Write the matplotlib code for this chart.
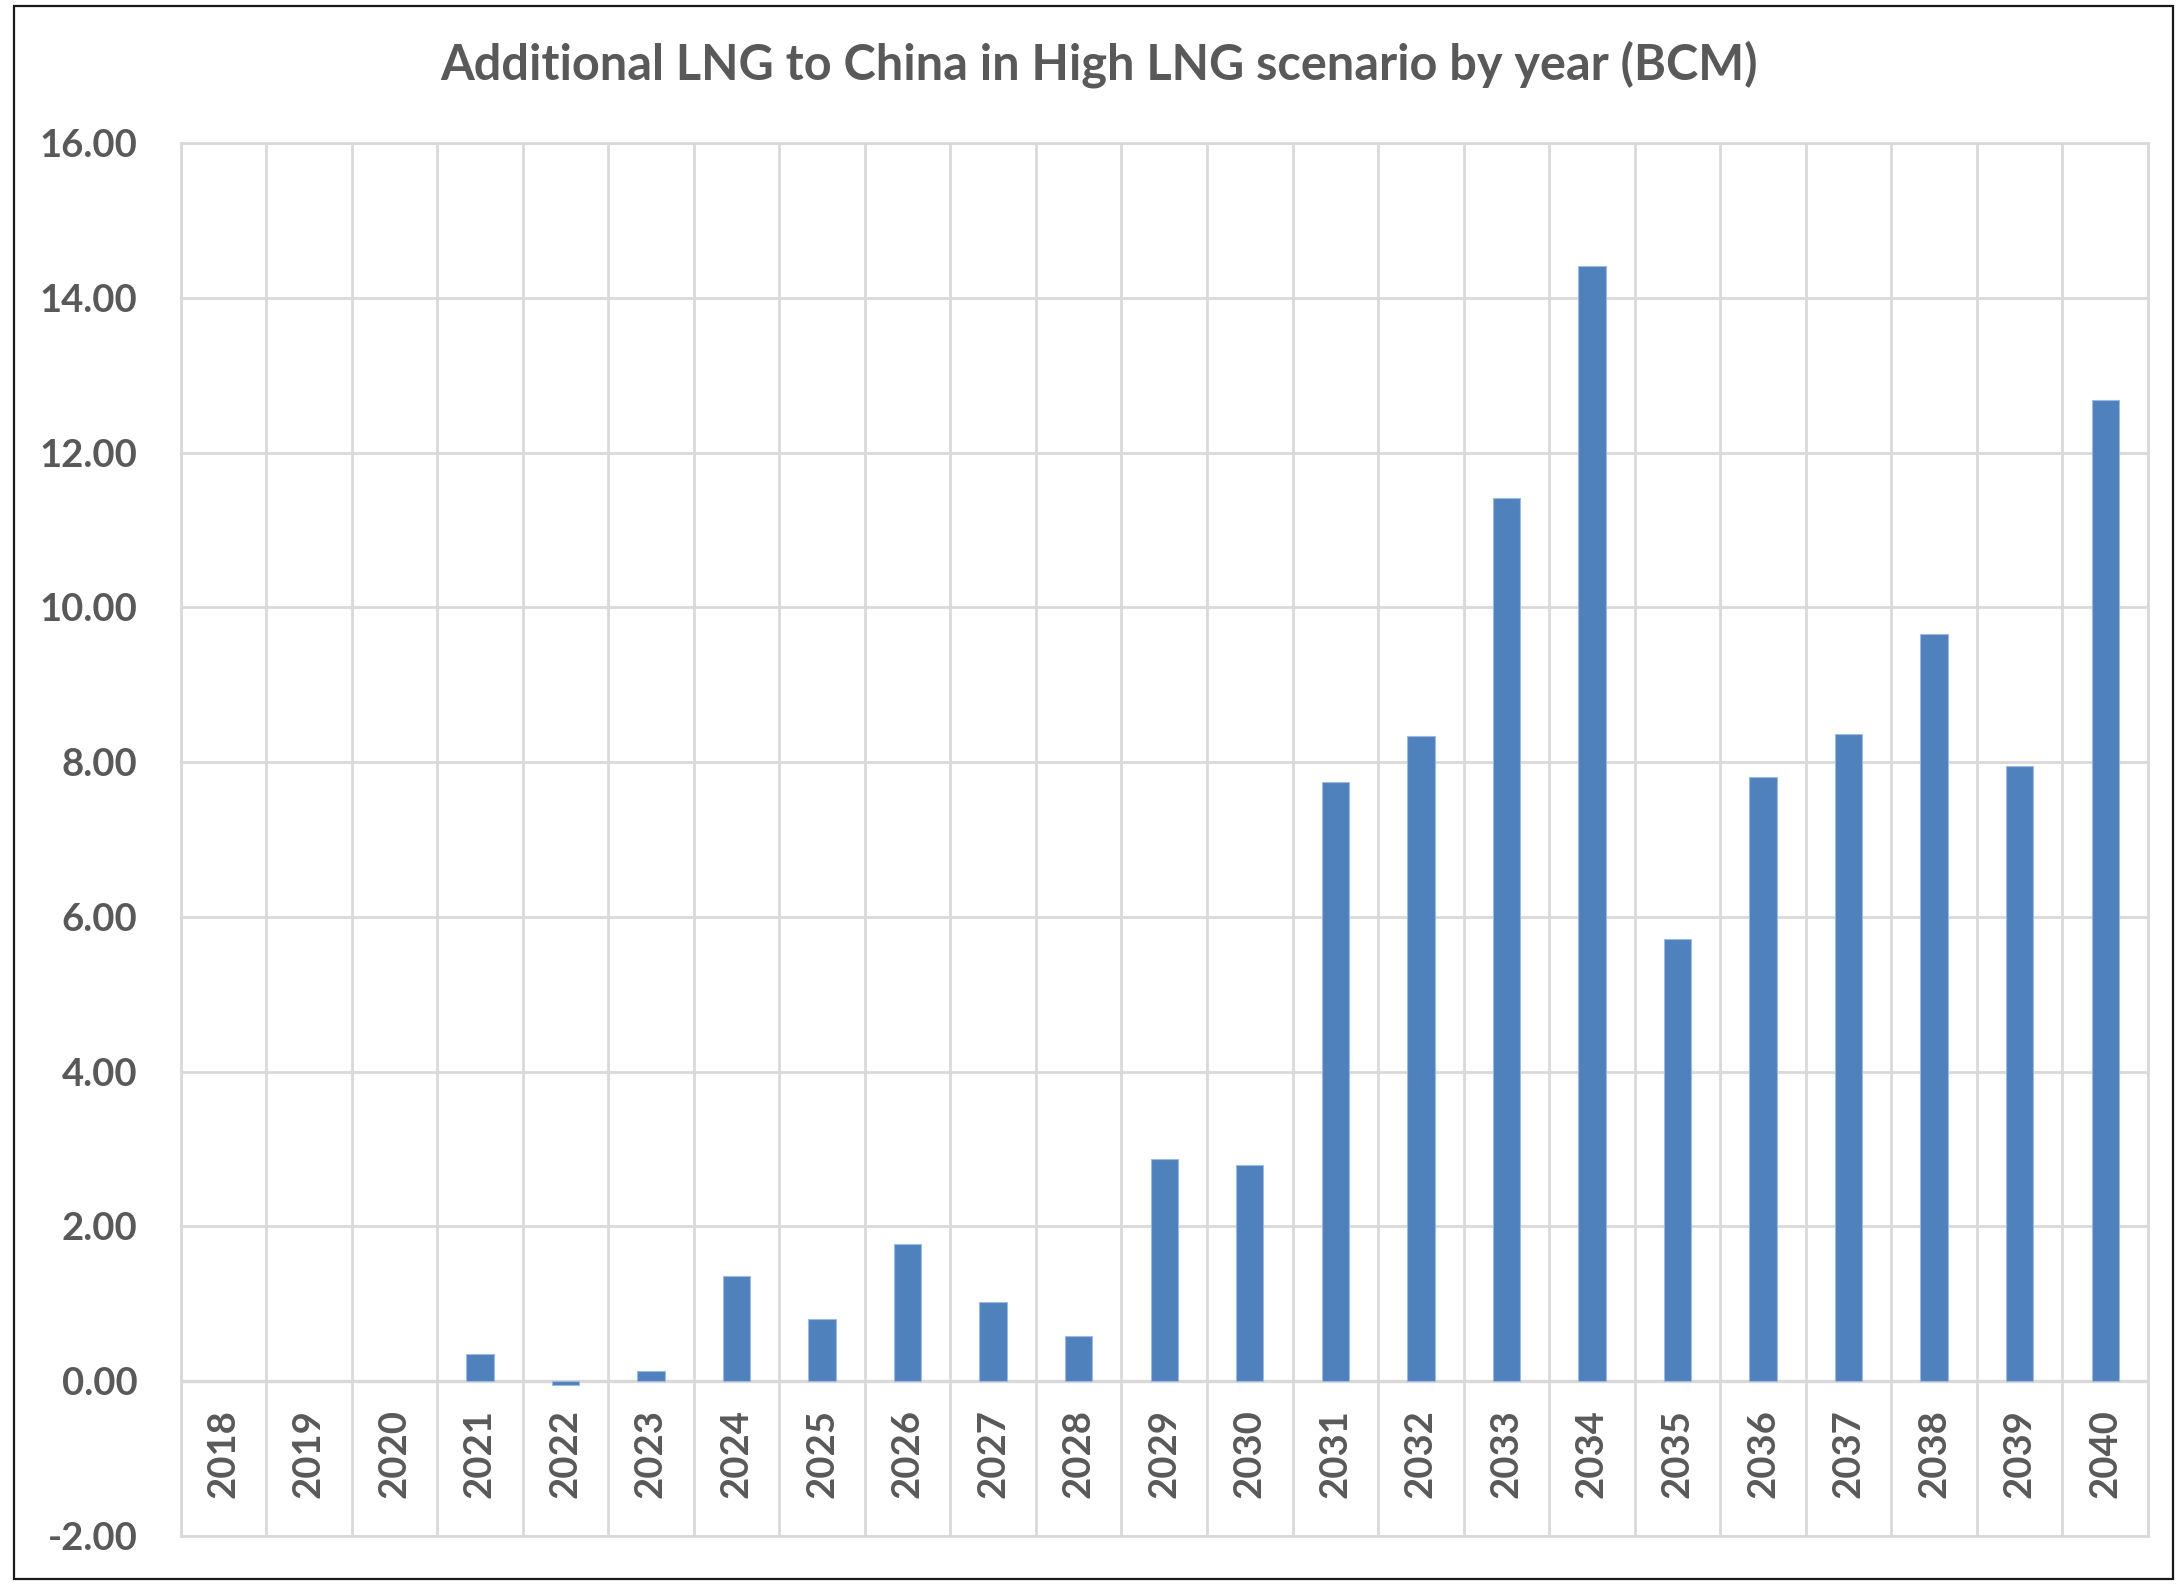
import matplotlib
matplotlib.use("Agg")
import matplotlib.pyplot as plt
from matplotlib.patches import Rectangle
from matplotlib.ticker import FixedLocator, FormatStrFormatter

# Additional LNG to China, High LNG scenario (BCM)
years = ["2018", "2019", "2020", "2021", "2022", "2023", "2024", "2025",
         "2026", "2027", "2028", "2029", "2030", "2031", "2032", "2033",
         "2034", "2035", "2036", "2037", "2038", "2039", "2040"]
additional_lng = [0.00, 0.00, 0.00, 0.35, -0.05, 0.13, 1.36, 0.80,
                  1.77, 1.02, 0.58, 2.87, 2.80, 7.74, 8.34, 11.41,
                  14.41, 5.71, 7.81, 8.36, 9.65, 7.95, 12.68]
y_ticks = [-2, 0, 2, 4, 6, 8, 10, 12, 14, 16]
title = "Additional LNG to China in High LNG scenario by year (BCM)"

TEXT = "#595959"
GRID = "#d9d9d9"
BAR = "#4f81bd"
FONT = ["Lato", "DejaVu Sans"]

W, H = 2177, 1584
fig = plt.figure(figsize=(W / 100, H / 100), dpi=100)
fig.patch.set_facecolor("white")

# outer chart frame
fig.add_artist(Rectangle((14 / W, 5 / H), (2173 - 14) / W, (1578 - 5) / H,
                         transform=fig.transFigure, fill=False,
                         edgecolor="#1a1a1a", linewidth=1.6))

left, right, top, bottom = 180.5, 2148, 143, 1536
ax = fig.add_axes([left / W, 1 - bottom / H, (right - left) / W, (bottom - top) / H])

x = list(range(len(years)))
edge_widths = [0.8 if v != 0 else 0.0 for v in additional_lng]
ax.bar(x, additional_lng, width=0.32, color=BAR, edgecolor="#9dbbe0",
       linewidth=edge_widths, zorder=3)

ax.set_xlim(-0.5, len(years) - 0.5)
ax.set_ylim(y_ticks[0], y_ticks[-1])

# category boundaries as vertical gridlines
ax.xaxis.set_major_locator(FixedLocator([i - 0.5 for i in range(len(years) + 1)]))
ax.yaxis.set_major_locator(FixedLocator(y_ticks))
ax.yaxis.set_major_formatter(FormatStrFormatter("%.2f"))
ax.grid(True, which="major", color=GRID, linewidth=2.0, zorder=0)
ax.set_axisbelow(True)
ax.tick_params(axis="x", length=0, labelbottom=False)
ax.tick_params(axis="y", length=0, pad=31, labelsize=27.5, labelcolor=TEXT)
for lbl in ax.get_yticklabels():
    lbl.set_fontfamily(FONT)
    lbl.set_fontweight("bold")

for s in ax.spines.values():
    s.set_color(GRID)
    s.set_linewidth(2.0)

# zero line
ax.axhline(0, color=GRID, linewidth=2.4, zorder=1)

# year labels just below the zero line
for i, yr in enumerate(years):
    ax.annotate(yr, xy=(i, 0), xytext=(0, -20), textcoords="offset points",
                rotation=90, ha="center", va="top", fontsize=27.5,
                fontweight="bold", color=TEXT, family=FONT)

fig.text(1099 / W, 1 - 64 / H, title, ha="center", va="center",
         fontsize=35, fontweight="bold", color=TEXT, family=FONT)

fig.savefig("out.png", dpi=100, facecolor="white")
